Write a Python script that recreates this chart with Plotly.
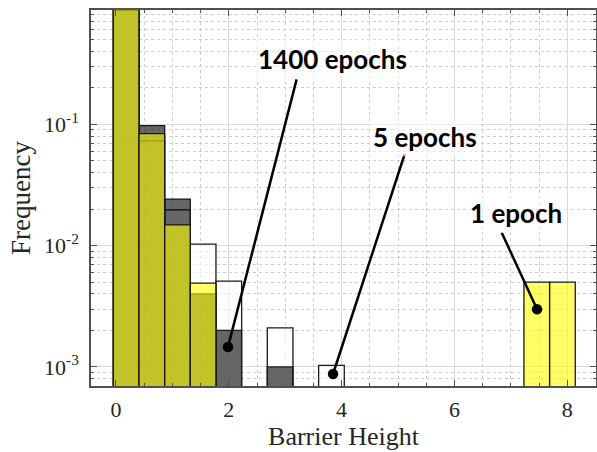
import plotly.graph_objects as go

# ---- data ----
bin_width = 0.455
e5_x = [0.18, 0.635, 1.09, 1.545, 2.0, 2.91, 3.82]
e5_y = [0.889, 0.073, 0.0197, 0.0103, 0.0051, 0.0021, 0.00103]
e1400_x = [0.18, 0.635, 1.09, 1.545, 2.0, 2.91]
e1400_y = [0.871, 0.0974, 0.0242, 0.0040, 0.0020, 0.0010]
e1_x = [0.18, 0.635, 1.09, 1.545, 7.46, 7.915]
e1_y = [0.886, 0.0837, 0.0148, 0.0049, 0.0050, 0.0050]

y_tickvals = [1e-3, 1e-2, 1e-1]
y_ticktext = ["10<sup>-3</sup>", "10<sup>-2</sup>", "10<sup>-1</sup>"]
x_tickvals = [0, 2, 4, 6, 8]

labels = ["1400 epochs", "5 epochs", "1 epoch"]

fig = go.Figure()
series = [
    ("5 epochs", e5_x, e5_y, "rgba(255,255,255,0.6)"),
    ("1400 epochs", e1400_x, e1400_y, "rgba(0,0,0,0.6)"),
    ("1 epoch", e1_x, e1_y, "rgba(255,255,0,0.6)"),
]
for name, xs, ys, col in series:
    fig.add_trace(go.Bar(
        x=xs, y=ys, name=name, width=bin_width,
        marker=dict(color=col, line=dict(color="#1a1a1a", width=1.3)),
        showlegend=False,
    ))

axcol = "#505050"
serif = "Liberation Serif, Times New Roman, serif"
fig.update_layout(
    width=597, height=452,
    margin=dict(l=91, r=1, t=10, b=66, autoexpand=False),
    paper_bgcolor="white", plot_bgcolor="white",
    barmode="overlay",
    font=dict(family=serif, color="#262626"),
)
fig.update_xaxes(
    automargin=False,
    range=[-0.443, 8.51],
    tickvals=x_tickvals, ticks="inside", ticklen=6, tickcolor=axcol, tickwidth=1,
    showline=True, linecolor=axcol, linewidth=1.5, mirror="ticks",
    showgrid=True, gridcolor="#d9d9d9", gridwidth=1,
    tickfont=dict(size=22, family=serif, color="#262626"),
    ticklabelstandoff=3,
    title=dict(text="Barrier Height", font=dict(size=26, family=serif, color="#262626"), standoff=6),
    minor=dict(dtick=0.5, tick0=0, ticks="inside", ticklen=3, tickcolor=axcol,
               showgrid=True, gridcolor="#cccccc", griddash="dot", gridwidth=1),
    zeroline=False,
)
fig.update_yaxes(
    automargin=False,
    type="log", range=[-3.157, -0.058],
    tickvals=y_tickvals, ticktext=y_ticktext,
    ticks="inside", ticklen=6, tickcolor=axcol, tickwidth=1,
    showline=True, linecolor=axcol, linewidth=1.5, mirror="ticks",
    showgrid=True, gridcolor="#d9d9d9", gridwidth=1,
    tickfont=dict(size=22, family=serif, color="#262626"),
    ticklabelstandoff=6,
    title=dict(text="Frequency", font=dict(size=27, family=serif, color="#262626"), standoff=6),
    minor=dict(dtick="D1", ticks="inside", ticklen=3, tickcolor=axcol,
               showgrid=True, gridcolor="#cccccc", griddash="dot", gridwidth=1),
    zeroline=False,
)

bold = "Lato, Open Sans, sans-serif"
# arrow lines with dot ends (point, pixel offset of line tail)
arrows = [
    (1.986, -2.835, 69, -269),
    (3.848, -3.058, 72, -221),
    (7.465, -2.5245, -36, -78),
]
for x, y, ax, ay in arrows:
    fig.add_annotation(
        x=x, y=y, xref="x", yref="y", text="", showarrow=True,
        ax=ax, ay=ay, axref="pixel", ayref="pixel",
        arrowhead=6, arrowsize=1.05, arrowwidth=2.5, arrowcolor="black",
        standoff=0, startstandoff=0,
    )
# label texts (paper coords derived from pixel placement)
W, H = 597 - 92, 452 - 76
text_pos = [(332.5, 59), (425, 137), (516, 213)]
for (px, py), t in zip(text_pos, labels):
    fig.add_annotation(
        x=(px - 91) / W, y=1 - (py - 10) / H, xref="paper", yref="paper",
        text="<b>" + t + "</b>", showarrow=False,
        font=dict(family=bold, size=26, color="black"),
        xanchor="center", yanchor="middle",
        bgcolor="rgba(255,255,255,0.55)", borderpad=3,
    )

fig.write_html("out.html", config={"displayModeBar": False},
               post_script="document.body.style.margin='0px';")
